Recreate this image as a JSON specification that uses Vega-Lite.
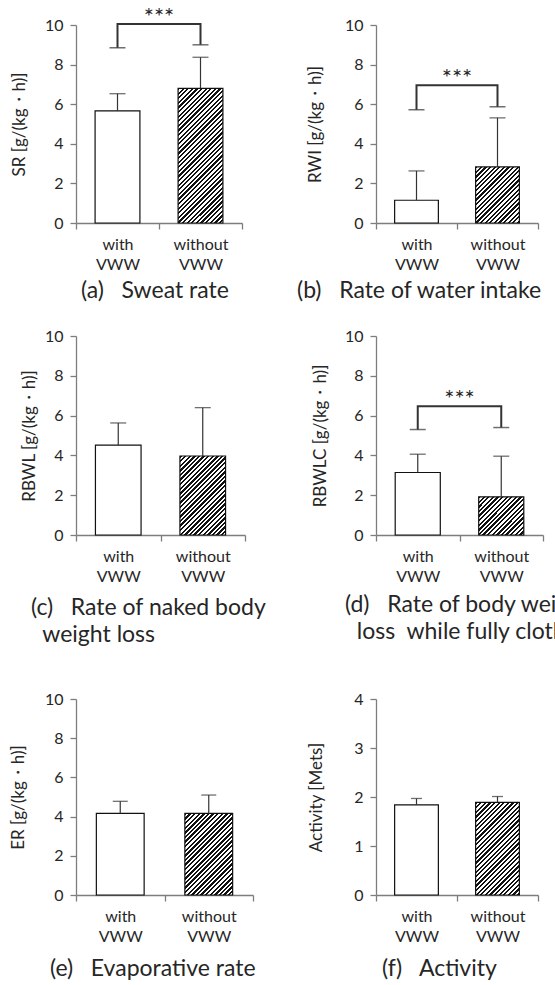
{
  "$schema": "https://vega.github.io/schema/vega-lite/v6.json",
  "background": "white",
  "padding": {"left": 9, "top": 5, "right": 0, "bottom": 0},
  "config": {
    "font": "Lato",
    "view": {"stroke": null},
    "axis": {"grid": false, "domainColor": "#7d7d7d", "tickColor": "#7d7d7d", "domainWidth": 1.3, "tickWidth": 1.3, "tickSize": 6, "labelColor": "#262626", "titleColor": "#262626", "labelFontSize": 16, "titleFontSize": 17, "titleFontWeight": "normal"},
    "axisX": {"labelAngle": 0, "tickBand": "extent", "labelPadding": 7, "labelLineHeight": 20},
    "axisY": {"labelPadding": 7, "titleFontSize": 17},
    "title": {"orient": "bottom", "anchor": "start", "frame": "group", "fontSize": 23, "fontWeight": "normal", "color": "#262626", "offset": 8, "lineHeight": 27}
  },
  "columns": 2,
  "bounds": "flush",
  "align": "each",
  "spacing": {"row": 0, "column": 123},
  "concat": [
    {
      "width": 166, "height": 198,
      "title": {"text": "(a)\u00a0\u00a0\u00a0Sweat rate", "dx": 5, "offset": 8},
      "data": {"values": [
        {"group": "with VWW", "mean": 5.66, "upper": 6.53},
        {"group": "without VWW", "mean": 6.8, "upper": 8.37}
      ]},
      "encoding": {"x": {"field": "group", "type": "nominal", "title": null, "scale": {"domain": ["with VWW", "without VWW"], "paddingInner": 0, "paddingOuter": 0}, "axis": {"labelExpr": "split(datum.label, ' ')"}}},
      "layer": [
        {"transform": [{"filter": "datum.group == 'with VWW'"}], "mark": {"type": "bar", "width": {"band": 0.54}, "fill": "#fff", "stroke": "#111", "strokeWidth": 1.2},
         "encoding": {"y": {"field": "mean", "type": "quantitative", "scale": {"domain": [0, 10], "nice": false}, "axis": {"values": [0, 2, 4, 6, 8, 10], "title": "SR [g/(kg・h)]", "titleFontSize": 17, "titlePadding": 16}}}},
        {"transform": [{"filter": "datum.group == 'without VWW'"}], "mark": {"type": "bar", "width": {"band": 0.54}, "stroke": "#111", "strokeWidth": 1.2,
          "fill": {"gradient": "linear", "x1": 0, "y1": 0, "x2": 0.4096, "y2": 1.2307, "stops": [
{"offset":0,"color":"#111"},{"offset":0.0125,"color":"#111"},{"offset":0.0125,"color":"#fff"},{"offset":0.025,"color":"#fff"},
{"offset":0.025,"color":"#111"},{"offset":0.0375,"color":"#111"},{"offset":0.0375,"color":"#fff"},{"offset":0.05,"color":"#fff"},
{"offset":0.05,"color":"#111"},{"offset":0.0625,"color":"#111"},{"offset":0.0625,"color":"#fff"},{"offset":0.075,"color":"#fff"},
{"offset":0.075,"color":"#111"},{"offset":0.0875,"color":"#111"},{"offset":0.0875,"color":"#fff"},{"offset":0.1,"color":"#fff"},
{"offset":0.1,"color":"#111"},{"offset":0.1125,"color":"#111"},{"offset":0.1125,"color":"#fff"},{"offset":0.125,"color":"#fff"},
{"offset":0.125,"color":"#111"},{"offset":0.1375,"color":"#111"},{"offset":0.1375,"color":"#fff"},{"offset":0.15,"color":"#fff"},
{"offset":0.15,"color":"#111"},{"offset":0.1625,"color":"#111"},{"offset":0.1625,"color":"#fff"},{"offset":0.175,"color":"#fff"},
{"offset":0.175,"color":"#111"},{"offset":0.1875,"color":"#111"},{"offset":0.1875,"color":"#fff"},{"offset":0.2,"color":"#fff"},
{"offset":0.2,"color":"#111"},{"offset":0.2125,"color":"#111"},{"offset":0.2125,"color":"#fff"},{"offset":0.225,"color":"#fff"},
{"offset":0.225,"color":"#111"},{"offset":0.2375,"color":"#111"},{"offset":0.2375,"color":"#fff"},{"offset":0.25,"color":"#fff"},
{"offset":0.25,"color":"#111"},{"offset":0.2625,"color":"#111"},{"offset":0.2625,"color":"#fff"},{"offset":0.275,"color":"#fff"},
{"offset":0.275,"color":"#111"},{"offset":0.2875,"color":"#111"},{"offset":0.2875,"color":"#fff"},{"offset":0.3,"color":"#fff"},
{"offset":0.3,"color":"#111"},{"offset":0.3125,"color":"#111"},{"offset":0.3125,"color":"#fff"},{"offset":0.325,"color":"#fff"},
{"offset":0.325,"color":"#111"},{"offset":0.3375,"color":"#111"},{"offset":0.3375,"color":"#fff"},{"offset":0.35,"color":"#fff"},
{"offset":0.35,"color":"#111"},{"offset":0.3625,"color":"#111"},{"offset":0.3625,"color":"#fff"},{"offset":0.375,"color":"#fff"},
{"offset":0.375,"color":"#111"},{"offset":0.3875,"color":"#111"},{"offset":0.3875,"color":"#fff"},{"offset":0.4,"color":"#fff"},
{"offset":0.4,"color":"#111"},{"offset":0.4125,"color":"#111"},{"offset":0.4125,"color":"#fff"},{"offset":0.425,"color":"#fff"},
{"offset":0.425,"color":"#111"},{"offset":0.4375,"color":"#111"},{"offset":0.4375,"color":"#fff"},{"offset":0.45,"color":"#fff"},
{"offset":0.45,"color":"#111"},{"offset":0.4625,"color":"#111"},{"offset":0.4625,"color":"#fff"},{"offset":0.475,"color":"#fff"},
{"offset":0.475,"color":"#111"},{"offset":0.4875,"color":"#111"},{"offset":0.4875,"color":"#fff"},{"offset":0.5,"color":"#fff"},
{"offset":0.5,"color":"#111"},{"offset":0.5125,"color":"#111"},{"offset":0.5125,"color":"#fff"},{"offset":0.525,"color":"#fff"},
{"offset":0.525,"color":"#111"},{"offset":0.5375,"color":"#111"},{"offset":0.5375,"color":"#fff"},{"offset":0.55,"color":"#fff"},
{"offset":0.55,"color":"#111"},{"offset":0.5625,"color":"#111"},{"offset":0.5625,"color":"#fff"},{"offset":0.575,"color":"#fff"},
{"offset":0.575,"color":"#111"},{"offset":0.5875,"color":"#111"},{"offset":0.5875,"color":"#fff"},{"offset":0.6,"color":"#fff"},
{"offset":0.6,"color":"#111"},{"offset":0.6125,"color":"#111"},{"offset":0.6125,"color":"#fff"},{"offset":0.625,"color":"#fff"},
{"offset":0.625,"color":"#111"},{"offset":0.6375,"color":"#111"},{"offset":0.6375,"color":"#fff"},{"offset":0.65,"color":"#fff"},
{"offset":0.65,"color":"#111"},{"offset":0.6625,"color":"#111"},{"offset":0.6625,"color":"#fff"},{"offset":0.675,"color":"#fff"},
{"offset":0.675,"color":"#111"},{"offset":0.6875,"color":"#111"},{"offset":0.6875,"color":"#fff"},{"offset":0.7,"color":"#fff"},
{"offset":0.7,"color":"#111"},{"offset":0.7125,"color":"#111"},{"offset":0.7125,"color":"#fff"},{"offset":0.725,"color":"#fff"},
{"offset":0.725,"color":"#111"},{"offset":0.7375,"color":"#111"},{"offset":0.7375,"color":"#fff"},{"offset":0.75,"color":"#fff"},
{"offset":0.75,"color":"#111"},{"offset":0.7625,"color":"#111"},{"offset":0.7625,"color":"#fff"},{"offset":0.775,"color":"#fff"},
{"offset":0.775,"color":"#111"},{"offset":0.7875,"color":"#111"},{"offset":0.7875,"color":"#fff"},{"offset":0.8,"color":"#fff"},
{"offset":0.8,"color":"#111"},{"offset":0.8125,"color":"#111"},{"offset":0.8125,"color":"#fff"},{"offset":0.825,"color":"#fff"},
{"offset":0.825,"color":"#111"},{"offset":0.8375,"color":"#111"},{"offset":0.8375,"color":"#fff"},{"offset":0.85,"color":"#fff"},
{"offset":0.85,"color":"#111"},{"offset":0.8625,"color":"#111"},{"offset":0.8625,"color":"#fff"},{"offset":0.875,"color":"#fff"},
{"offset":0.875,"color":"#111"},{"offset":0.8875,"color":"#111"},{"offset":0.8875,"color":"#fff"},{"offset":0.9,"color":"#fff"},
{"offset":0.9,"color":"#111"},{"offset":0.9125,"color":"#111"},{"offset":0.9125,"color":"#fff"},{"offset":0.925,"color":"#fff"},
{"offset":0.925,"color":"#111"},{"offset":0.9375,"color":"#111"},{"offset":0.9375,"color":"#fff"},{"offset":0.95,"color":"#fff"},
{"offset":0.95,"color":"#111"},{"offset":0.9625,"color":"#111"},{"offset":0.9625,"color":"#fff"},{"offset":0.975,"color":"#fff"},
{"offset":0.975,"color":"#111"},{"offset":0.9875,"color":"#111"},{"offset":0.9875,"color":"#fff"},{"offset":1,"color":"#fff"}
          ]}},
         "encoding": {"y": {"field": "mean", "type": "quantitative", "scale": {"domain": [0, 10], "nice": false}, "axis": {"values": [0, 2, 4, 6, 8, 10], "title": "SR [g/(kg・h)]", "titleFontSize": 17, "titlePadding": 16}}}},
        {"mark": {"type": "rule", "color": "#333", "strokeWidth": 1.2},
         "encoding": {"y": {"field": "mean", "type": "quantitative", "scale": {"domain": [0, 10], "nice": false}, "axis": {"values": [0, 2, 4, 6, 8, 10], "title": "SR [g/(kg・h)]", "titleFontSize": 17, "titlePadding": 16}}, "y2": {"field": "upper"}}},
        {"mark": {"type": "tick", "orient": "horizontal", "size": 16, "thickness": 1.3, "color": "#333"},
         "encoding": {"y": {"field": "upper", "type": "quantitative", "scale": {"domain": [0, 10], "nice": false}, "axis": {"values": [0, 2, 4, 6, 8, 10], "title": "SR [g/(kg・h)]", "titleFontSize": 17, "titlePadding": 16}}}},
        {"data": {"values": [
          {"group": "with VWW", "y": 8.85, "o": 1},
          {"group": "with VWW", "y": 10.05, "o": 2},
          {"group": "without VWW", "y": 10.05, "o": 3},
          {"group": "without VWW", "y": 9.0, "o": 4}
         ]},
         "layer": [
          {"mark": {"type": "line", "color": "#333", "strokeWidth": 2, "strokeCap": "butt", "strokeJoin": "miter"},
           "encoding": {"y": {"field": "y", "type": "quantitative", "scale": {"domain": [0, 10], "nice": false}, "axis": {"values": [0, 2, 4, 6, 8, 10], "title": "SR [g/(kg・h)]", "titleFontSize": 17, "titlePadding": 16}}, "order": {"field": "o"}}},
          {"transform": [{"filter": "datum.o == 1 || datum.o == 4"}], "mark": {"type": "tick", "orient": "horizontal", "size": 16, "thickness": 1.5, "color": "#333"},
           "encoding": {"y": {"field": "y", "type": "quantitative", "scale": {"domain": [0, 10], "nice": false}, "axis": {"values": [0, 2, 4, 6, 8, 10], "title": "SR [g/(kg・h)]", "titleFontSize": 17, "titlePadding": 16}}}}
         ]},
        {"data": {"values": [{"group": "with VWW", "y": 10.62, "label": "***"}]},
         "mark": {"type": "text", "fontSize": 24, "dy": 5, "color": "#262626"},
         "encoding": {"x": {"field": "group", "type": "nominal", "bandPosition": 1, "title": null, "scale": {"domain": ["with VWW", "without VWW"], "paddingInner": 0, "paddingOuter": 0}, "axis": {"labelExpr": "split(datum.label, ' ')"}},
           "y": {"field": "y", "type": "quantitative", "scale": {"domain": [0, 10], "nice": false}, "axis": {"values": [0, 2, 4, 6, 8, 10], "title": "SR [g/(kg・h)]", "titleFontSize": 17, "titlePadding": 16}}, "text": {"field": "label"}}}
      ]
    },
    {
      "width": 162, "height": 198,
      "title": {"text": "(b)\u00a0\u00a0\u00a0Rate of water intake", "dx": -79, "offset": 8},
      "data": {"values": [
        {"group": "with VWW", "mean": 1.15, "upper": 2.63},
        {"group": "without VWW", "mean": 2.83, "upper": 5.31}
      ]},
      "encoding": {"x": {"field": "group", "type": "nominal", "title": null, "scale": {"domain": ["with VWW", "without VWW"], "paddingInner": 0, "paddingOuter": 0}, "axis": {"labelExpr": "split(datum.label, ' ')"}}},
      "layer": [
        {"transform": [{"filter": "datum.group == 'with VWW'"}], "mark": {"type": "bar", "width": {"band": 0.54}, "fill": "#fff", "stroke": "#111", "strokeWidth": 1.2},
         "encoding": {"y": {"field": "mean", "type": "quantitative", "scale": {"domain": [0, 10], "nice": false}, "axis": {"values": [0, 2, 4, 6, 8, 10], "title": "RWI [g/(kg・h)]", "titleFontSize": 17, "titlePadding": 20}}}},
        {"transform": [{"filter": "datum.group == 'without VWW'"}], "mark": {"type": "bar", "width": {"band": 0.54}, "stroke": "#111", "strokeWidth": 1.2,
          "fill": {"gradient": "linear", "x1": 0, "y1": 0, "x2": 1.594, "y2": 2.042, "stops": [
{"offset":0,"color":"#111"},{"offset":0.0125,"color":"#111"},{"offset":0.0125,"color":"#fff"},{"offset":0.025,"color":"#fff"},
{"offset":0.025,"color":"#111"},{"offset":0.0375,"color":"#111"},{"offset":0.0375,"color":"#fff"},{"offset":0.05,"color":"#fff"},
{"offset":0.05,"color":"#111"},{"offset":0.0625,"color":"#111"},{"offset":0.0625,"color":"#fff"},{"offset":0.075,"color":"#fff"},
{"offset":0.075,"color":"#111"},{"offset":0.0875,"color":"#111"},{"offset":0.0875,"color":"#fff"},{"offset":0.1,"color":"#fff"},
{"offset":0.1,"color":"#111"},{"offset":0.1125,"color":"#111"},{"offset":0.1125,"color":"#fff"},{"offset":0.125,"color":"#fff"},
{"offset":0.125,"color":"#111"},{"offset":0.1375,"color":"#111"},{"offset":0.1375,"color":"#fff"},{"offset":0.15,"color":"#fff"},
{"offset":0.15,"color":"#111"},{"offset":0.1625,"color":"#111"},{"offset":0.1625,"color":"#fff"},{"offset":0.175,"color":"#fff"},
{"offset":0.175,"color":"#111"},{"offset":0.1875,"color":"#111"},{"offset":0.1875,"color":"#fff"},{"offset":0.2,"color":"#fff"},
{"offset":0.2,"color":"#111"},{"offset":0.2125,"color":"#111"},{"offset":0.2125,"color":"#fff"},{"offset":0.225,"color":"#fff"},
{"offset":0.225,"color":"#111"},{"offset":0.2375,"color":"#111"},{"offset":0.2375,"color":"#fff"},{"offset":0.25,"color":"#fff"},
{"offset":0.25,"color":"#111"},{"offset":0.2625,"color":"#111"},{"offset":0.2625,"color":"#fff"},{"offset":0.275,"color":"#fff"},
{"offset":0.275,"color":"#111"},{"offset":0.2875,"color":"#111"},{"offset":0.2875,"color":"#fff"},{"offset":0.3,"color":"#fff"},
{"offset":0.3,"color":"#111"},{"offset":0.3125,"color":"#111"},{"offset":0.3125,"color":"#fff"},{"offset":0.325,"color":"#fff"},
{"offset":0.325,"color":"#111"},{"offset":0.3375,"color":"#111"},{"offset":0.3375,"color":"#fff"},{"offset":0.35,"color":"#fff"},
{"offset":0.35,"color":"#111"},{"offset":0.3625,"color":"#111"},{"offset":0.3625,"color":"#fff"},{"offset":0.375,"color":"#fff"},
{"offset":0.375,"color":"#111"},{"offset":0.3875,"color":"#111"},{"offset":0.3875,"color":"#fff"},{"offset":0.4,"color":"#fff"},
{"offset":0.4,"color":"#111"},{"offset":0.4125,"color":"#111"},{"offset":0.4125,"color":"#fff"},{"offset":0.425,"color":"#fff"},
{"offset":0.425,"color":"#111"},{"offset":0.4375,"color":"#111"},{"offset":0.4375,"color":"#fff"},{"offset":0.45,"color":"#fff"},
{"offset":0.45,"color":"#111"},{"offset":0.4625,"color":"#111"},{"offset":0.4625,"color":"#fff"},{"offset":0.475,"color":"#fff"},
{"offset":0.475,"color":"#111"},{"offset":0.4875,"color":"#111"},{"offset":0.4875,"color":"#fff"},{"offset":0.5,"color":"#fff"},
{"offset":0.5,"color":"#111"},{"offset":0.5125,"color":"#111"},{"offset":0.5125,"color":"#fff"},{"offset":0.525,"color":"#fff"},
{"offset":0.525,"color":"#111"},{"offset":0.5375,"color":"#111"},{"offset":0.5375,"color":"#fff"},{"offset":0.55,"color":"#fff"},
{"offset":0.55,"color":"#111"},{"offset":0.5625,"color":"#111"},{"offset":0.5625,"color":"#fff"},{"offset":0.575,"color":"#fff"},
{"offset":0.575,"color":"#111"},{"offset":0.5875,"color":"#111"},{"offset":0.5875,"color":"#fff"},{"offset":0.6,"color":"#fff"}
          ]}},
         "encoding": {"y": {"field": "mean", "type": "quantitative", "scale": {"domain": [0, 10], "nice": false}, "axis": {"values": [0, 2, 4, 6, 8, 10], "title": "RWI [g/(kg・h)]", "titleFontSize": 17, "titlePadding": 20}}}},
        {"mark": {"type": "rule", "color": "#333", "strokeWidth": 1.2},
         "encoding": {"y": {"field": "mean", "type": "quantitative", "scale": {"domain": [0, 10], "nice": false}, "axis": {"values": [0, 2, 4, 6, 8, 10], "title": "RWI [g/(kg・h)]", "titleFontSize": 17, "titlePadding": 20}}, "y2": {"field": "upper"}}},
        {"mark": {"type": "tick", "orient": "horizontal", "size": 16, "thickness": 1.3, "color": "#333"},
         "encoding": {"y": {"field": "upper", "type": "quantitative", "scale": {"domain": [0, 10], "nice": false}, "axis": {"values": [0, 2, 4, 6, 8, 10], "title": "RWI [g/(kg・h)]", "titleFontSize": 17, "titlePadding": 20}}}},
        {"data": {"values": [
          {"group": "with VWW", "y": 5.72, "o": 1},
          {"group": "with VWW", "y": 6.96, "o": 2},
          {"group": "without VWW", "y": 6.96, "o": 3},
          {"group": "without VWW", "y": 5.87, "o": 4}
         ]},
         "layer": [
          {"mark": {"type": "line", "color": "#333", "strokeWidth": 2, "strokeCap": "butt", "strokeJoin": "miter"},
           "encoding": {"y": {"field": "y", "type": "quantitative", "scale": {"domain": [0, 10], "nice": false}, "axis": {"values": [0, 2, 4, 6, 8, 10], "title": "RWI [g/(kg・h)]", "titleFontSize": 17, "titlePadding": 20}}, "order": {"field": "o"}}},
          {"transform": [{"filter": "datum.o == 1 || datum.o == 4"}], "mark": {"type": "tick", "orient": "horizontal", "size": 16, "thickness": 1.5, "color": "#333"},
           "encoding": {"y": {"field": "y", "type": "quantitative", "scale": {"domain": [0, 10], "nice": false}, "axis": {"values": [0, 2, 4, 6, 8, 10], "title": "RWI [g/(kg・h)]", "titleFontSize": 17, "titlePadding": 20}}}}
         ]},
        {"data": {"values": [{"group": "with VWW", "y": 7.57, "label": "***"}]},
         "mark": {"type": "text", "fontSize": 24, "dy": 6, "color": "#262626"},
         "encoding": {"x": {"field": "group", "type": "nominal", "bandPosition": 1, "title": null, "scale": {"domain": ["with VWW", "without VWW"], "paddingInner": 0, "paddingOuter": 0}, "axis": {"labelExpr": "split(datum.label, ' ')"}},
           "y": {"field": "y", "type": "quantitative", "scale": {"domain": [0, 10], "nice": false}, "axis": {"values": [0, 2, 4, 6, 8, 10], "title": "RWI [g/(kg・h)]", "titleFontSize": 17, "titlePadding": 20}}, "text": {"field": "label"}}}
      ]
    },
    {"width": 10, "height": 113, "data": {"values": []}, "mark": "point"},
    {"width": 10, "height": 113, "data": {"values": []}, "mark": "point"},
    {
      "width": 169, "height": 199,
      "title": {"text": ["(c)\u00a0\u00a0\u00a0Rate of naked body", "\u200b\u00a0\u00a0weight loss"], "dx": -45, "offset": 13},
      "data": {"values": [
        {"group": "with VWW", "mean": 4.52, "upper": 5.63},
        {"group": "without VWW", "mean": 3.97, "upper": 6.4}
      ]},
      "encoding": {"x": {"field": "group", "type": "nominal", "title": null, "scale": {"domain": ["with VWW", "without VWW"], "paddingInner": 0, "paddingOuter": 0}, "axis": {"labelExpr": "split(datum.label, ' ')"}}},
      "layer": [
        {"transform": [{"filter": "datum.group == 'with VWW'"}], "mark": {"type": "bar", "width": {"band": 0.54}, "fill": "#fff", "stroke": "#111", "strokeWidth": 1.2},
         "encoding": {"y": {"field": "mean", "type": "quantitative", "scale": {"domain": [0, 10], "nice": false}, "axis": {"values": [0, 2, 4, 6, 8, 10], "title": "RBWL [g/(kg・h)]", "titleFontSize": 17, "titlePadding": 6}}}},
        {"transform": [{"filter": "datum.group == 'without VWW'"}], "mark": {"type": "bar", "width": {"band": 0.54}, "stroke": "#111", "strokeWidth": 1.2,
          "fill": {"gradient": "linear", "x1": 0, "y1": 0, "x2": 1.0085, "y2": 1.747, "stops": [
{"offset":0,"color":"#111"},{"offset":0.0125,"color":"#111"},{"offset":0.0125,"color":"#fff"},{"offset":0.025,"color":"#fff"},
{"offset":0.025,"color":"#111"},{"offset":0.0375,"color":"#111"},{"offset":0.0375,"color":"#fff"},{"offset":0.05,"color":"#fff"},
{"offset":0.05,"color":"#111"},{"offset":0.0625,"color":"#111"},{"offset":0.0625,"color":"#fff"},{"offset":0.075,"color":"#fff"},
{"offset":0.075,"color":"#111"},{"offset":0.0875,"color":"#111"},{"offset":0.0875,"color":"#fff"},{"offset":0.1,"color":"#fff"},
{"offset":0.1,"color":"#111"},{"offset":0.1125,"color":"#111"},{"offset":0.1125,"color":"#fff"},{"offset":0.125,"color":"#fff"},
{"offset":0.125,"color":"#111"},{"offset":0.1375,"color":"#111"},{"offset":0.1375,"color":"#fff"},{"offset":0.15,"color":"#fff"},
{"offset":0.15,"color":"#111"},{"offset":0.1625,"color":"#111"},{"offset":0.1625,"color":"#fff"},{"offset":0.175,"color":"#fff"},
{"offset":0.175,"color":"#111"},{"offset":0.1875,"color":"#111"},{"offset":0.1875,"color":"#fff"},{"offset":0.2,"color":"#fff"},
{"offset":0.2,"color":"#111"},{"offset":0.2125,"color":"#111"},{"offset":0.2125,"color":"#fff"},{"offset":0.225,"color":"#fff"},
{"offset":0.225,"color":"#111"},{"offset":0.2375,"color":"#111"},{"offset":0.2375,"color":"#fff"},{"offset":0.25,"color":"#fff"},
{"offset":0.25,"color":"#111"},{"offset":0.2625,"color":"#111"},{"offset":0.2625,"color":"#fff"},{"offset":0.275,"color":"#fff"},
{"offset":0.275,"color":"#111"},{"offset":0.2875,"color":"#111"},{"offset":0.2875,"color":"#fff"},{"offset":0.3,"color":"#fff"},
{"offset":0.3,"color":"#111"},{"offset":0.3125,"color":"#111"},{"offset":0.3125,"color":"#fff"},{"offset":0.325,"color":"#fff"},
{"offset":0.325,"color":"#111"},{"offset":0.3375,"color":"#111"},{"offset":0.3375,"color":"#fff"},{"offset":0.35,"color":"#fff"},
{"offset":0.35,"color":"#111"},{"offset":0.3625,"color":"#111"},{"offset":0.3625,"color":"#fff"},{"offset":0.375,"color":"#fff"},
{"offset":0.375,"color":"#111"},{"offset":0.3875,"color":"#111"},{"offset":0.3875,"color":"#fff"},{"offset":0.4,"color":"#fff"},
{"offset":0.4,"color":"#111"},{"offset":0.4125,"color":"#111"},{"offset":0.4125,"color":"#fff"},{"offset":0.425,"color":"#fff"},
{"offset":0.425,"color":"#111"},{"offset":0.4375,"color":"#111"},{"offset":0.4375,"color":"#fff"},{"offset":0.45,"color":"#fff"},
{"offset":0.45,"color":"#111"},{"offset":0.4625,"color":"#111"},{"offset":0.4625,"color":"#fff"},{"offset":0.475,"color":"#fff"},
{"offset":0.475,"color":"#111"},{"offset":0.4875,"color":"#111"},{"offset":0.4875,"color":"#fff"},{"offset":0.5,"color":"#fff"},
{"offset":0.5,"color":"#111"},{"offset":0.5125,"color":"#111"},{"offset":0.5125,"color":"#fff"},{"offset":0.525,"color":"#fff"},
{"offset":0.525,"color":"#111"},{"offset":0.5375,"color":"#111"},{"offset":0.5375,"color":"#fff"},{"offset":0.55,"color":"#fff"},
{"offset":0.55,"color":"#111"},{"offset":0.5625,"color":"#111"},{"offset":0.5625,"color":"#fff"},{"offset":0.575,"color":"#fff"},
{"offset":0.575,"color":"#111"},{"offset":0.5875,"color":"#111"},{"offset":0.5875,"color":"#fff"},{"offset":0.6,"color":"#fff"},
{"offset":0.6,"color":"#111"},{"offset":0.6125,"color":"#111"},{"offset":0.6125,"color":"#fff"},{"offset":0.625,"color":"#fff"},
{"offset":0.625,"color":"#111"},{"offset":0.6375,"color":"#111"},{"offset":0.6375,"color":"#fff"},{"offset":0.65,"color":"#fff"},
{"offset":0.65,"color":"#111"},{"offset":0.6625,"color":"#111"},{"offset":0.6625,"color":"#fff"},{"offset":0.675,"color":"#fff"},
{"offset":0.675,"color":"#111"},{"offset":0.6875,"color":"#111"},{"offset":0.6875,"color":"#fff"},{"offset":0.7,"color":"#fff"},
{"offset":0.7,"color":"#111"},{"offset":0.7125,"color":"#111"},{"offset":0.7125,"color":"#fff"},{"offset":0.725,"color":"#fff"}
          ]}},
         "encoding": {"y": {"field": "mean", "type": "quantitative", "scale": {"domain": [0, 10], "nice": false}, "axis": {"values": [0, 2, 4, 6, 8, 10], "title": "RBWL [g/(kg・h)]", "titleFontSize": 17, "titlePadding": 6}}}},
        {"mark": {"type": "rule", "color": "#333", "strokeWidth": 1.2},
         "encoding": {"y": {"field": "mean", "type": "quantitative", "scale": {"domain": [0, 10], "nice": false}, "axis": {"values": [0, 2, 4, 6, 8, 10], "title": "RBWL [g/(kg・h)]", "titleFontSize": 17, "titlePadding": 6}}, "y2": {"field": "upper"}}},
        {"mark": {"type": "tick", "orient": "horizontal", "size": 16, "thickness": 1.3, "color": "#333"},
         "encoding": {"y": {"field": "upper", "type": "quantitative", "scale": {"domain": [0, 10], "nice": false}, "axis": {"values": [0, 2, 4, 6, 8, 10], "title": "RBWL [g/(kg・h)]", "titleFontSize": 17, "titlePadding": 6}}}}
      ]
    },
    {
      "width": 167, "height": 199,
      "title": {"text": ["(d)\u00a0\u00a0\u00a0Rate of body weight", "\u200b\u00a0\u00a0loss\u00a0\u00a0while fully clothed"], "dx": -31, "offset": 10},
      "data": {"values": [
        {"group": "with VWW", "mean": 3.14, "upper": 4.06},
        {"group": "without VWW", "mean": 1.92, "upper": 3.96}
      ]},
      "encoding": {"x": {"field": "group", "type": "nominal", "title": null, "scale": {"domain": ["with VWW", "without VWW"], "paddingInner": 0, "paddingOuter": 0}, "axis": {"labelExpr": "split(datum.label, ' ')"}}},
      "layer": [
        {"transform": [{"filter": "datum.group == 'with VWW'"}], "mark": {"type": "bar", "width": {"band": 0.54}, "fill": "#fff", "stroke": "#111", "strokeWidth": 1.2},
         "encoding": {"y": {"field": "mean", "type": "quantitative", "scale": {"domain": [0, 10], "nice": false}, "axis": {"values": [0, 2, 4, 6, 8, 10], "title": "RBWLC [g/(kg・h)]", "titleFontSize": 17, "titlePadding": 15}}}},
        {"transform": [{"filter": "datum.group == 'without VWW'"}], "mark": {"type": "bar", "width": {"band": 0.54}, "stroke": "#111", "strokeWidth": 1.2,
          "fill": {"gradient": "linear", "x1": 0, "y1": 0, "x2": 2.376, "y2": 2.012, "stops": [
{"offset":0,"color":"#111"},{"offset":0.0125,"color":"#111"},{"offset":0.0125,"color":"#fff"},{"offset":0.025,"color":"#fff"},
{"offset":0.025,"color":"#111"},{"offset":0.0375,"color":"#111"},{"offset":0.0375,"color":"#fff"},{"offset":0.05,"color":"#fff"},
{"offset":0.05,"color":"#111"},{"offset":0.0625,"color":"#111"},{"offset":0.0625,"color":"#fff"},{"offset":0.075,"color":"#fff"},
{"offset":0.075,"color":"#111"},{"offset":0.0875,"color":"#111"},{"offset":0.0875,"color":"#fff"},{"offset":0.1,"color":"#fff"},
{"offset":0.1,"color":"#111"},{"offset":0.1125,"color":"#111"},{"offset":0.1125,"color":"#fff"},{"offset":0.125,"color":"#fff"},
{"offset":0.125,"color":"#111"},{"offset":0.1375,"color":"#111"},{"offset":0.1375,"color":"#fff"},{"offset":0.15,"color":"#fff"},
{"offset":0.15,"color":"#111"},{"offset":0.1625,"color":"#111"},{"offset":0.1625,"color":"#fff"},{"offset":0.175,"color":"#fff"},
{"offset":0.175,"color":"#111"},{"offset":0.1875,"color":"#111"},{"offset":0.1875,"color":"#fff"},{"offset":0.2,"color":"#fff"},
{"offset":0.2,"color":"#111"},{"offset":0.2125,"color":"#111"},{"offset":0.2125,"color":"#fff"},{"offset":0.225,"color":"#fff"},
{"offset":0.225,"color":"#111"},{"offset":0.2375,"color":"#111"},{"offset":0.2375,"color":"#fff"},{"offset":0.25,"color":"#fff"},
{"offset":0.25,"color":"#111"},{"offset":0.2625,"color":"#111"},{"offset":0.2625,"color":"#fff"},{"offset":0.275,"color":"#fff"},
{"offset":0.275,"color":"#111"},{"offset":0.2875,"color":"#111"},{"offset":0.2875,"color":"#fff"},{"offset":0.3,"color":"#fff"},
{"offset":0.3,"color":"#111"},{"offset":0.3125,"color":"#111"},{"offset":0.3125,"color":"#fff"},{"offset":0.325,"color":"#fff"},
{"offset":0.325,"color":"#111"},{"offset":0.3375,"color":"#111"},{"offset":0.3375,"color":"#fff"},{"offset":0.35,"color":"#fff"},
{"offset":0.35,"color":"#111"},{"offset":0.3625,"color":"#111"},{"offset":0.3625,"color":"#fff"},{"offset":0.375,"color":"#fff"},
{"offset":0.375,"color":"#111"},{"offset":0.3875,"color":"#111"},{"offset":0.3875,"color":"#fff"},{"offset":0.4,"color":"#fff"},
{"offset":0.4,"color":"#111"},{"offset":0.4125,"color":"#111"},{"offset":0.4125,"color":"#fff"},{"offset":0.425,"color":"#fff"},
{"offset":0.425,"color":"#111"},{"offset":0.4375,"color":"#111"},{"offset":0.4375,"color":"#fff"},{"offset":0.45,"color":"#fff"},
{"offset":0.45,"color":"#111"},{"offset":0.4625,"color":"#111"},{"offset":0.4625,"color":"#fff"},{"offset":0.475,"color":"#fff"}
          ]}},
         "encoding": {"y": {"field": "mean", "type": "quantitative", "scale": {"domain": [0, 10], "nice": false}, "axis": {"values": [0, 2, 4, 6, 8, 10], "title": "RBWLC [g/(kg・h)]", "titleFontSize": 17, "titlePadding": 15}}}},
        {"mark": {"type": "rule", "color": "#333", "strokeWidth": 1.2},
         "encoding": {"y": {"field": "mean", "type": "quantitative", "scale": {"domain": [0, 10], "nice": false}, "axis": {"values": [0, 2, 4, 6, 8, 10], "title": "RBWLC [g/(kg・h)]", "titleFontSize": 17, "titlePadding": 15}}, "y2": {"field": "upper"}}},
        {"mark": {"type": "tick", "orient": "horizontal", "size": 16, "thickness": 1.3, "color": "#333"},
         "encoding": {"y": {"field": "upper", "type": "quantitative", "scale": {"domain": [0, 10], "nice": false}, "axis": {"values": [0, 2, 4, 6, 8, 10], "title": "RBWLC [g/(kg・h)]", "titleFontSize": 17, "titlePadding": 15}}}},
        {"data": {"values": [
          {"group": "with VWW", "y": 5.3, "o": 1},
          {"group": "with VWW", "y": 6.47, "o": 2},
          {"group": "without VWW", "y": 6.47, "o": 3},
          {"group": "without VWW", "y": 5.4, "o": 4}
         ]},
         "layer": [
          {"mark": {"type": "line", "color": "#333", "strokeWidth": 2, "strokeCap": "butt", "strokeJoin": "miter"},
           "encoding": {"y": {"field": "y", "type": "quantitative", "scale": {"domain": [0, 10], "nice": false}, "axis": {"values": [0, 2, 4, 6, 8, 10], "title": "RBWLC [g/(kg・h)]", "titleFontSize": 17, "titlePadding": 15}}, "order": {"field": "o"}}},
          {"transform": [{"filter": "datum.o == 1 || datum.o == 4"}], "mark": {"type": "tick", "orient": "horizontal", "size": 16, "thickness": 1.5, "color": "#333"},
           "encoding": {"y": {"field": "y", "type": "quantitative", "scale": {"domain": [0, 10], "nice": false}, "axis": {"values": [0, 2, 4, 6, 8, 10], "title": "RBWLC [g/(kg・h)]", "titleFontSize": 17, "titlePadding": 15}}}}
         ]},
        {"data": {"values": [{"group": "with VWW", "y": 7.04, "label": "***"}]},
         "mark": {"type": "text", "fontSize": 24, "dy": 5, "color": "#262626"},
         "encoding": {"x": {"field": "group", "type": "nominal", "bandPosition": 1, "title": null, "scale": {"domain": ["with VWW", "without VWW"], "paddingInner": 0, "paddingOuter": 0}, "axis": {"labelExpr": "split(datum.label, ' ')"}},
           "y": {"field": "y", "type": "quantitative", "scale": {"domain": [0, 10], "nice": false}, "axis": {"values": [0, 2, 4, 6, 8, 10], "title": "RBWLC [g/(kg・h)]", "titleFontSize": 17, "titlePadding": 15}}, "text": {"field": "label"}}}
      ]
    },
    {"width": 10, "height": 164, "data": {"values": []}, "mark": "point"},
    {"width": 10, "height": 164, "data": {"values": []}, "mark": "point"},
    {
      "width": 177, "height": 196,
      "title": {"text": "(e)\u00a0\u00a0\u00a0Evaporative rate", "dx": -26, "offset": 14},
      "data": {"values": [
        {"group": "with VWW", "mean": 4.16, "upper": 4.78},
        {"group": "without VWW", "mean": 4.16, "upper": 5.1}
      ]},
      "encoding": {"x": {"field": "group", "type": "nominal", "title": null, "scale": {"domain": ["with VWW", "without VWW"], "paddingInner": 0, "paddingOuter": 0}, "axis": {"labelExpr": "split(datum.label, ' ')"}}},
      "layer": [
        {"transform": [{"filter": "datum.group == 'with VWW'"}], "mark": {"type": "bar", "width": {"band": 0.54}, "fill": "#fff", "stroke": "#111", "strokeWidth": 1.2},
         "encoding": {"y": {"field": "mean", "type": "quantitative", "scale": {"domain": [0, 10], "nice": false}, "axis": {"values": [0, 2, 4, 6, 8, 10], "title": "ER [g/(kg・h)]", "titleFontSize": 17, "titlePadding": 17}}}},
        {"transform": [{"filter": "datum.group == 'without VWW'"}], "mark": {"type": "bar", "width": {"band": 0.54}, "stroke": "#111", "strokeWidth": 1.2,
          "fill": {"gradient": "linear", "x1": 0, "y1": 0, "x2": 0.9852, "y2": 1.68, "stops": [
{"offset":0,"color":"#111"},{"offset":0.0125,"color":"#111"},{"offset":0.0125,"color":"#fff"},{"offset":0.025,"color":"#fff"},
{"offset":0.025,"color":"#111"},{"offset":0.0375,"color":"#111"},{"offset":0.0375,"color":"#fff"},{"offset":0.05,"color":"#fff"},
{"offset":0.05,"color":"#111"},{"offset":0.0625,"color":"#111"},{"offset":0.0625,"color":"#fff"},{"offset":0.075,"color":"#fff"},
{"offset":0.075,"color":"#111"},{"offset":0.0875,"color":"#111"},{"offset":0.0875,"color":"#fff"},{"offset":0.1,"color":"#fff"},
{"offset":0.1,"color":"#111"},{"offset":0.1125,"color":"#111"},{"offset":0.1125,"color":"#fff"},{"offset":0.125,"color":"#fff"},
{"offset":0.125,"color":"#111"},{"offset":0.1375,"color":"#111"},{"offset":0.1375,"color":"#fff"},{"offset":0.15,"color":"#fff"},
{"offset":0.15,"color":"#111"},{"offset":0.1625,"color":"#111"},{"offset":0.1625,"color":"#fff"},{"offset":0.175,"color":"#fff"},
{"offset":0.175,"color":"#111"},{"offset":0.1875,"color":"#111"},{"offset":0.1875,"color":"#fff"},{"offset":0.2,"color":"#fff"},
{"offset":0.2,"color":"#111"},{"offset":0.2125,"color":"#111"},{"offset":0.2125,"color":"#fff"},{"offset":0.225,"color":"#fff"},
{"offset":0.225,"color":"#111"},{"offset":0.2375,"color":"#111"},{"offset":0.2375,"color":"#fff"},{"offset":0.25,"color":"#fff"},
{"offset":0.25,"color":"#111"},{"offset":0.2625,"color":"#111"},{"offset":0.2625,"color":"#fff"},{"offset":0.275,"color":"#fff"},
{"offset":0.275,"color":"#111"},{"offset":0.2875,"color":"#111"},{"offset":0.2875,"color":"#fff"},{"offset":0.3,"color":"#fff"},
{"offset":0.3,"color":"#111"},{"offset":0.3125,"color":"#111"},{"offset":0.3125,"color":"#fff"},{"offset":0.325,"color":"#fff"},
{"offset":0.325,"color":"#111"},{"offset":0.3375,"color":"#111"},{"offset":0.3375,"color":"#fff"},{"offset":0.35,"color":"#fff"},
{"offset":0.35,"color":"#111"},{"offset":0.3625,"color":"#111"},{"offset":0.3625,"color":"#fff"},{"offset":0.375,"color":"#fff"},
{"offset":0.375,"color":"#111"},{"offset":0.3875,"color":"#111"},{"offset":0.3875,"color":"#fff"},{"offset":0.4,"color":"#fff"},
{"offset":0.4,"color":"#111"},{"offset":0.4125,"color":"#111"},{"offset":0.4125,"color":"#fff"},{"offset":0.425,"color":"#fff"},
{"offset":0.425,"color":"#111"},{"offset":0.4375,"color":"#111"},{"offset":0.4375,"color":"#fff"},{"offset":0.45,"color":"#fff"},
{"offset":0.45,"color":"#111"},{"offset":0.4625,"color":"#111"},{"offset":0.4625,"color":"#fff"},{"offset":0.475,"color":"#fff"},
{"offset":0.475,"color":"#111"},{"offset":0.4875,"color":"#111"},{"offset":0.4875,"color":"#fff"},{"offset":0.5,"color":"#fff"},
{"offset":0.5,"color":"#111"},{"offset":0.5125,"color":"#111"},{"offset":0.5125,"color":"#fff"},{"offset":0.525,"color":"#fff"},
{"offset":0.525,"color":"#111"},{"offset":0.5375,"color":"#111"},{"offset":0.5375,"color":"#fff"},{"offset":0.55,"color":"#fff"},
{"offset":0.55,"color":"#111"},{"offset":0.5625,"color":"#111"},{"offset":0.5625,"color":"#fff"},{"offset":0.575,"color":"#fff"},
{"offset":0.575,"color":"#111"},{"offset":0.5875,"color":"#111"},{"offset":0.5875,"color":"#fff"},{"offset":0.6,"color":"#fff"},
{"offset":0.6,"color":"#111"},{"offset":0.6125,"color":"#111"},{"offset":0.6125,"color":"#fff"},{"offset":0.625,"color":"#fff"},
{"offset":0.625,"color":"#111"},{"offset":0.6375,"color":"#111"},{"offset":0.6375,"color":"#fff"},{"offset":0.65,"color":"#fff"},
{"offset":0.65,"color":"#111"},{"offset":0.6625,"color":"#111"},{"offset":0.6625,"color":"#fff"},{"offset":0.675,"color":"#fff"},
{"offset":0.675,"color":"#111"},{"offset":0.6875,"color":"#111"},{"offset":0.6875,"color":"#fff"},{"offset":0.7,"color":"#fff"},
{"offset":0.7,"color":"#111"},{"offset":0.7125,"color":"#111"},{"offset":0.7125,"color":"#fff"},{"offset":0.725,"color":"#fff"},
{"offset":0.725,"color":"#111"},{"offset":0.7375,"color":"#111"},{"offset":0.7375,"color":"#fff"},{"offset":0.75,"color":"#fff"}
          ]}},
         "encoding": {"y": {"field": "mean", "type": "quantitative", "scale": {"domain": [0, 10], "nice": false}, "axis": {"values": [0, 2, 4, 6, 8, 10], "title": "ER [g/(kg・h)]", "titleFontSize": 17, "titlePadding": 17}}}},
        {"mark": {"type": "rule", "color": "#333", "strokeWidth": 1.2},
         "encoding": {"y": {"field": "mean", "type": "quantitative", "scale": {"domain": [0, 10], "nice": false}, "axis": {"values": [0, 2, 4, 6, 8, 10], "title": "ER [g/(kg・h)]", "titleFontSize": 17, "titlePadding": 17}}, "y2": {"field": "upper"}}},
        {"mark": {"type": "tick", "orient": "horizontal", "size": 15, "thickness": 1.3, "color": "#333"},
         "encoding": {"y": {"field": "upper", "type": "quantitative", "scale": {"domain": [0, 10], "nice": false}, "axis": {"values": [0, 2, 4, 6, 8, 10], "title": "ER [g/(kg・h)]", "titleFontSize": 17, "titlePadding": 17}}}}
      ]
    },
    {
      "width": 162, "height": 196,
      "title": {"text": "(f)\u00a0\u00a0\u00a0Activity", "dx": 6, "offset": 14},
      "data": {"values": [
        {"group": "with VWW", "mean": 1.84, "upper": 1.97},
        {"group": "without VWW", "mean": 1.89, "upper": 2.01}
      ]},
      "encoding": {"x": {"field": "group", "type": "nominal", "title": null, "scale": {"domain": ["with VWW", "without VWW"], "paddingInner": 0, "paddingOuter": 0}, "axis": {"labelExpr": "split(datum.label, ' ')"}}},
      "layer": [
        {"transform": [{"filter": "datum.group == 'with VWW'"}], "mark": {"type": "bar", "width": {"band": 0.54}, "fill": "#fff", "stroke": "#111", "strokeWidth": 1.2},
         "encoding": {"y": {"field": "mean", "type": "quantitative", "scale": {"domain": [0, 4], "nice": false}, "axis": {"values": [0, 1, 2, 3, 4], "title": "Activity [Mets]", "titleFontSize": 17, "titlePadding": 28}}}},
        {"transform": [{"filter": "datum.group == 'without VWW'"}], "mark": {"type": "bar", "width": {"band": 0.54}, "stroke": "#111", "strokeWidth": 1.2,
          "fill": {"gradient": "linear", "x1": 0, "y1": 0, "x2": 0.7669, "y2": 1.625, "stops": [
{"offset":0,"color":"#111"},{"offset":0.0125,"color":"#111"},{"offset":0.0125,"color":"#fff"},{"offset":0.025,"color":"#fff"},
{"offset":0.025,"color":"#111"},{"offset":0.0375,"color":"#111"},{"offset":0.0375,"color":"#fff"},{"offset":0.05,"color":"#fff"},
{"offset":0.05,"color":"#111"},{"offset":0.0625,"color":"#111"},{"offset":0.0625,"color":"#fff"},{"offset":0.075,"color":"#fff"},
{"offset":0.075,"color":"#111"},{"offset":0.0875,"color":"#111"},{"offset":0.0875,"color":"#fff"},{"offset":0.1,"color":"#fff"},
{"offset":0.1,"color":"#111"},{"offset":0.1125,"color":"#111"},{"offset":0.1125,"color":"#fff"},{"offset":0.125,"color":"#fff"},
{"offset":0.125,"color":"#111"},{"offset":0.1375,"color":"#111"},{"offset":0.1375,"color":"#fff"},{"offset":0.15,"color":"#fff"},
{"offset":0.15,"color":"#111"},{"offset":0.1625,"color":"#111"},{"offset":0.1625,"color":"#fff"},{"offset":0.175,"color":"#fff"},
{"offset":0.175,"color":"#111"},{"offset":0.1875,"color":"#111"},{"offset":0.1875,"color":"#fff"},{"offset":0.2,"color":"#fff"},
{"offset":0.2,"color":"#111"},{"offset":0.2125,"color":"#111"},{"offset":0.2125,"color":"#fff"},{"offset":0.225,"color":"#fff"},
{"offset":0.225,"color":"#111"},{"offset":0.2375,"color":"#111"},{"offset":0.2375,"color":"#fff"},{"offset":0.25,"color":"#fff"},
{"offset":0.25,"color":"#111"},{"offset":0.2625,"color":"#111"},{"offset":0.2625,"color":"#fff"},{"offset":0.275,"color":"#fff"},
{"offset":0.275,"color":"#111"},{"offset":0.2875,"color":"#111"},{"offset":0.2875,"color":"#fff"},{"offset":0.3,"color":"#fff"},
{"offset":0.3,"color":"#111"},{"offset":0.3125,"color":"#111"},{"offset":0.3125,"color":"#fff"},{"offset":0.325,"color":"#fff"},
{"offset":0.325,"color":"#111"},{"offset":0.3375,"color":"#111"},{"offset":0.3375,"color":"#fff"},{"offset":0.35,"color":"#fff"},
{"offset":0.35,"color":"#111"},{"offset":0.3625,"color":"#111"},{"offset":0.3625,"color":"#fff"},{"offset":0.375,"color":"#fff"},
{"offset":0.375,"color":"#111"},{"offset":0.3875,"color":"#111"},{"offset":0.3875,"color":"#fff"},{"offset":0.4,"color":"#fff"},
{"offset":0.4,"color":"#111"},{"offset":0.4125,"color":"#111"},{"offset":0.4125,"color":"#fff"},{"offset":0.425,"color":"#fff"},
{"offset":0.425,"color":"#111"},{"offset":0.4375,"color":"#111"},{"offset":0.4375,"color":"#fff"},{"offset":0.45,"color":"#fff"},
{"offset":0.45,"color":"#111"},{"offset":0.4625,"color":"#111"},{"offset":0.4625,"color":"#fff"},{"offset":0.475,"color":"#fff"},
{"offset":0.475,"color":"#111"},{"offset":0.4875,"color":"#111"},{"offset":0.4875,"color":"#fff"},{"offset":0.5,"color":"#fff"},
{"offset":0.5,"color":"#111"},{"offset":0.5125,"color":"#111"},{"offset":0.5125,"color":"#fff"},{"offset":0.525,"color":"#fff"},
{"offset":0.525,"color":"#111"},{"offset":0.5375,"color":"#111"},{"offset":0.5375,"color":"#fff"},{"offset":0.55,"color":"#fff"},
{"offset":0.55,"color":"#111"},{"offset":0.5625,"color":"#111"},{"offset":0.5625,"color":"#fff"},{"offset":0.575,"color":"#fff"},
{"offset":0.575,"color":"#111"},{"offset":0.5875,"color":"#111"},{"offset":0.5875,"color":"#fff"},{"offset":0.6,"color":"#fff"},
{"offset":0.6,"color":"#111"},{"offset":0.6125,"color":"#111"},{"offset":0.6125,"color":"#fff"},{"offset":0.625,"color":"#fff"},
{"offset":0.625,"color":"#111"},{"offset":0.6375,"color":"#111"},{"offset":0.6375,"color":"#fff"},{"offset":0.65,"color":"#fff"},
{"offset":0.65,"color":"#111"},{"offset":0.6625,"color":"#111"},{"offset":0.6625,"color":"#fff"},{"offset":0.675,"color":"#fff"},
{"offset":0.675,"color":"#111"},{"offset":0.6875,"color":"#111"},{"offset":0.6875,"color":"#fff"},{"offset":0.7,"color":"#fff"},
{"offset":0.7,"color":"#111"},{"offset":0.7125,"color":"#111"},{"offset":0.7125,"color":"#fff"},{"offset":0.725,"color":"#fff"},
{"offset":0.725,"color":"#111"},{"offset":0.7375,"color":"#111"},{"offset":0.7375,"color":"#fff"},{"offset":0.75,"color":"#fff"},
{"offset":0.75,"color":"#111"},{"offset":0.7625,"color":"#111"},{"offset":0.7625,"color":"#fff"},{"offset":0.775,"color":"#fff"}
          ]}},
         "encoding": {"y": {"field": "mean", "type": "quantitative", "scale": {"domain": [0, 4], "nice": false}, "axis": {"values": [0, 1, 2, 3, 4], "title": "Activity [Mets]", "titleFontSize": 17, "titlePadding": 28}}}},
        {"mark": {"type": "rule", "color": "#333", "strokeWidth": 1.2},
         "encoding": {"y": {"field": "mean", "type": "quantitative", "scale": {"domain": [0, 4], "nice": false}, "axis": {"values": [0, 1, 2, 3, 4], "title": "Activity [Mets]", "titleFontSize": 17, "titlePadding": 28}}, "y2": {"field": "upper"}}},
        {"mark": {"type": "tick", "orient": "horizontal", "size": 11, "thickness": 1.3, "color": "#333"},
         "encoding": {"y": {"field": "upper", "type": "quantitative", "scale": {"domain": [0, 4], "nice": false}, "axis": {"values": [0, 1, 2, 3, 4], "title": "Activity [Mets]", "titleFontSize": 17, "titlePadding": 28}}}}
      ]
    }
  ]
}
